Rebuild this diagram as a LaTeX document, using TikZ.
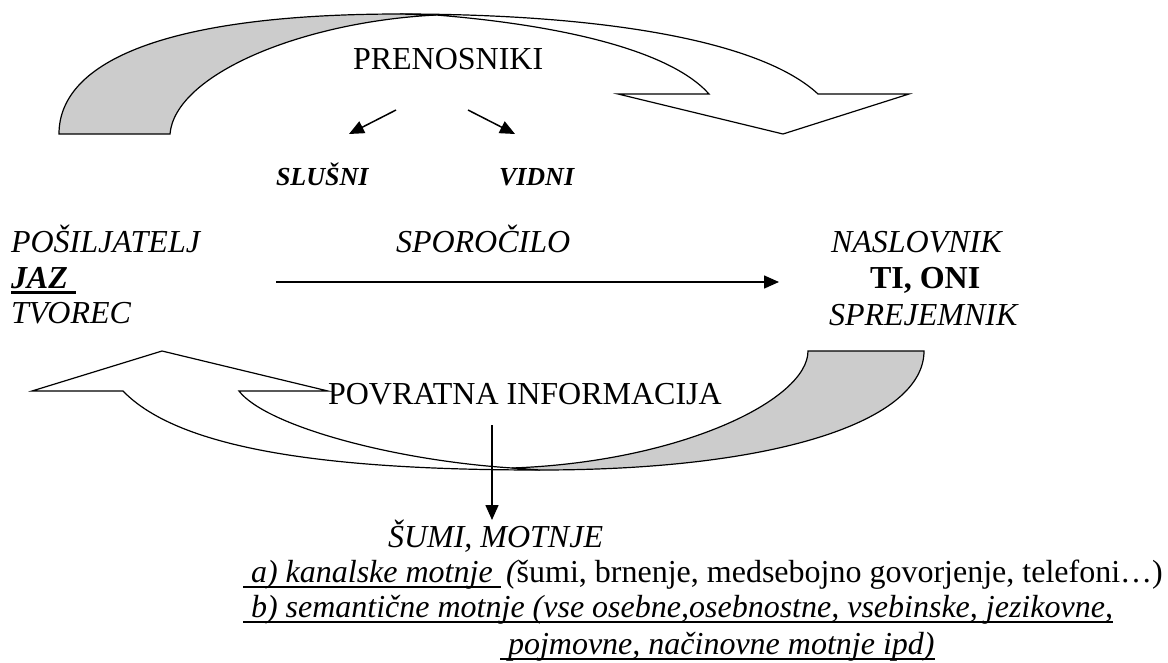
\documentclass[tikz,border=0pt]{standalone}
\usepackage{fontspec}
\setmainfont{Liberation Serif}
\usetikzlibrary{arrows.meta}
\definecolor{shade}{RGB}{204,204,204}
\newcommand\myul[2][2pt]{\setbox0=\hbox{#2}\rlap{\rule[-6pt]{\wd0}{#1}}\box0}
\begin{document}
\begin{tikzpicture}[x=1pt,y=-1pt,
  band/.style={draw=black, line width=1.2pt, line join=miter},
  arr/.style={line width=1.5pt, -{Triangle[length=15pt,width=13pt]}},
  txt/.style={inner sep=0pt, outer sep=0pt, anchor=base west, font=\fontsize{32}{38}\selectfont},
  smalltxt/.style={inner sep=0pt, outer sep=0pt, anchor=base west, font=\fontsize{26}{30}\selectfont\bfseries\itshape}]
\useasboundingbox (0,0) rectangle (1168,662);

% top curved arrow: front band with head
\draw[band, fill=white] (400,14) .. controls (600,14) and (760,40) .. (818,94)
  -- (909,94) -- (783,134) -- (618,94) -- (709,94)
  .. controls (670,50) and (560,25) .. (436,15) -- cycle;
% top curved arrow: back band (shaded)
\draw[band, fill=shade] (59,134) .. controls (59,60) and (170,14) .. (400,14)
  -- (436,15) .. controls (300,22) and (175,75) .. (170,134) -- cycle;

% bottom curved arrow: front band with head
\draw[band, fill=white] (123,391) .. controls (180,450) and (330,470) .. (540,470)
  -- (512,468) .. controls (390,460) and (265,425) .. (239,391)
  -- (328,391) -- (162,351) -- (32,391) -- cycle;
% bottom curved arrow: back band (shaded)
\draw[band, fill=shade] (808,351) -- (924,351) .. controls (924,420) and (780,470) .. (540,470)
  -- (512,468) .. controls (680,462) and (808,400) .. (808,351) -- cycle;

% texts
\node[txt] (prenos) at (353,69) {PRENOSNIKI};
\node[smalltxt] (slusni) at (276,185) {SLUŠNI};
\node[smalltxt] (vidni) at (499,185) {VIDNI};
\node[txt, font=\fontsize{32}{38}\selectfont\itshape] (posil) at (11,252) {POŠILJATELJ};
\node[txt, font=\fontsize{32}{38}\selectfont\bfseries\itshape] (jaz) at (11,288) {\myul[3pt]{JAZ\ }};
\node[txt, font=\fontsize{32}{38}\selectfont\itshape] (tvorec) at (11,323) {TVOREC};
\node[txt, font=\fontsize{32}{38}\selectfont\itshape] (sporo) at (396,252) {SPOROČILO};
\node[txt, font=\fontsize{32}{38}\selectfont\itshape] (naslov) at (831,252) {NASLOVNIK};
\node[txt, font=\fontsize{32}{38}\selectfont\bfseries] (tioni) at (870,288) {TI, ONI};
\node[txt, font=\fontsize{32}{38}\selectfont\itshape] (sprej) at (829,325) {SPREJEMNIK};
\node[txt] (povr) at (328,404) {POVRATNA INFORMACIJA};
\node[txt, font=\fontsize{32}{38}\selectfont\itshape] (sumi) at (388,547) {ŠUMI, MOTNJE};
\node[txt, font=\fontsize{32}{38}\selectfont\itshape] (linea) at (243,582)
  {\myul{\ a) kanalske motnje\ }\,(\upshape šumi, brnenje, medsebojno govorjenje, telefoni…)};
\node[txt, font=\fontsize{32}{38}\selectfont\itshape] (lineb) at (243,617)
  {\myul{\ b) semantične motnje (vse osebne,osebnostne, vsebinske, jezikovne,}};
\node[txt, font=\fontsize{32}{38}\selectfont\itshape] (linec) at (500,654)
  {\myul{\ pojmovne, načinovne motnje ipd)}};

% connectors
\coordinate (sl0) at (396,110);
\coordinate (sl1) at (349,134);
\coordinate (vi0) at (468,110);
\coordinate (vi1) at (515,134);
\coordinate (m0) at (276,282);
\coordinate (m1) at (779,282);
\coordinate (v0) at (492,425);
\coordinate (v1) at (492,520);
\draw[arr] (sl0) -- (sl1);
\draw[arr] (vi0) -- (vi1);
\draw[arr] (m0) -- (m1);
\draw[arr] (v0) -- (v1);
\end{tikzpicture}
\end{document}
